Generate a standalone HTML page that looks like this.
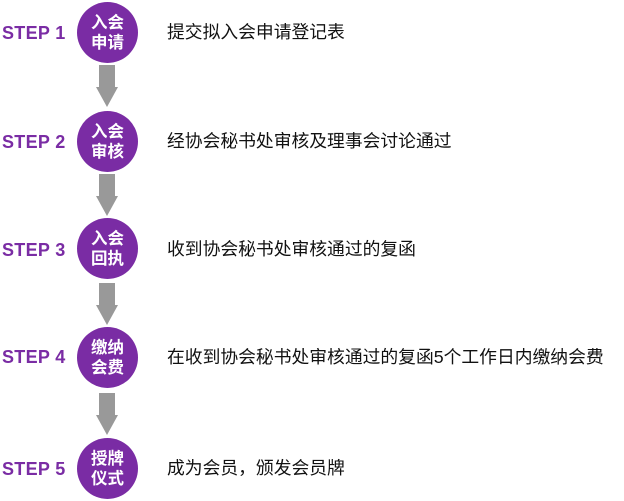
<!DOCTYPE html>
<html><head><meta charset="utf-8"><style>
body{margin:0;width:624px;height:501px;background:#fff;position:relative;overflow:hidden;font-family:"Liberation Sans","Noto Sans CJK SC",sans-serif}
.s{position:absolute;left:2px;font-weight:bold;font-size:18px;color:#7a2ca4;line-height:20px;letter-spacing:0.3px}
.c{position:absolute;left:77px;width:61px;height:61px;border-radius:50%;background:#7a2ca4;color:#fff;font-weight:bold;font-size:16.5px;line-height:20px;text-align:center;display:flex;align-items:center;justify-content:center}
.t{position:absolute;left:167px;font-size:17.8px;line-height:22px;color:#111;white-space:nowrap}
.a{position:absolute;left:96px}
</style></head><body>
<div class="s" style="top:23px">STEP 1</div>
<div class="s" style="top:132px">STEP 2</div>
<div class="s" style="top:240px">STEP 3</div>
<div class="s" style="top:347px">STEP 4</div>
<div class="s" style="top:459px">STEP 5</div>

<div class="c" style="top:2px">入会<br>申请</div>
<div class="c" style="top:111px">入会<br>审核</div>
<div class="c" style="top:218px">入会<br>回执</div>
<div class="c" style="top:327px">缴纳<br>会费</div>
<div class="c" style="top:438px">授牌<br>仪式</div>

<div class="t" style="top:21px">提交拟入会申请登记表</div>
<div class="t" style="top:130px">经协会秘书处审核及理事会讨论通过</div>
<div class="t" style="top:238px">收到协会秘书处审核通过的复函</div>
<div class="t" style="top:346px">在收到协会秘书处审核通过的复函5个工作日内缴纳会费</div>
<div class="t" style="top:457px">成为会员，颁发会员牌</div>

<svg class="a" style="top:65px" width="22" height="42"><polygon points="3,0 19,0 19,22 22,22 11,42 0,22 3,22" fill="#999"/></svg>
<svg class="a" style="top:174px" width="22" height="42"><polygon points="3,0 19,0 19,22 22,22 11,42 0,22 3,22" fill="#999"/></svg>
<svg class="a" style="top:283px" width="22" height="42"><polygon points="3,0 19,0 19,22 22,22 11,42 0,22 3,22" fill="#999"/></svg>
<svg class="a" style="top:393px" width="22" height="42"><polygon points="3,0 19,0 19,22 22,22 11,42 0,22 3,22" fill="#999"/></svg>
</body></html>
